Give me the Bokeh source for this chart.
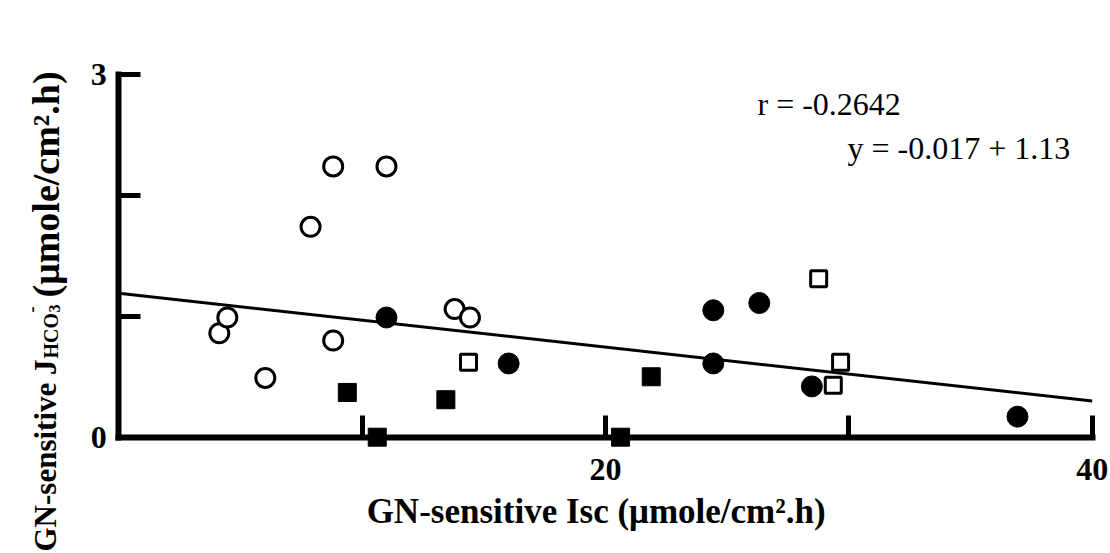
import math
from bokeh.plotting import figure
from bokeh.models import Range1d, FixedTicker, Label
from bokeh.embed import file_html
from bokeh.resources import INLINE

# ---- data ----
open_circle_x = [4.13, 4.46, 6.02, 7.88, 8.81, 8.81, 11.00, 13.80, 14.43]
open_circle_y = [0.86, 0.99, 0.49, 1.74, 2.24, 0.80, 2.24, 1.06, 0.99]
filled_circle_x = [11.00, 16.02, 24.43, 26.32, 24.43, 28.48, 36.93]
filled_circle_y = [0.99, 0.61, 1.05, 1.11, 0.61, 0.42, 0.17]
filled_square_x = [9.39, 13.44, 10.62, 21.88, 20.62]
filled_square_y = [0.37, 0.31, 0.00, 0.50, 0.00]
open_square_x = [14.37, 28.76, 29.66, 29.36]
open_square_y = [0.62, 1.31, 0.62, 0.43]
fit_x = [0, 40]
fit_y = [1.19, 0.30]

x_ticks = [10, 20, 30, 40]
x_tick_labels = {10: "", 20: "20", 30: "", 40: "40"}
y_ticks = [0, 1, 2, 3]
y_tick_labels = {0: "0", 1: "", 2: "", 3: "3"}

x_title = "GN-sensitive Isc  (\u03bcmole/cm\u00b2.h)"
y_title_main = "GN-sensitive J"
y_title_sub = "HCO"
y_title_subsub = "3"
y_title_sup = "-"
y_title_unit = "(\u03bcmole/cm\u00b2.h)"
note_r = "r = -0.2642"
note_eq = "y = -0.017 + 1.13"

# ---- geometry (pixels of the 1110x553 canvas) ----
W, H = 1110, 553
X_LO, X_HI = 0, 40          # axis extent in data
Y_LO, Y_HI = 0, 3
PX_XLO, PX_XHI = 118.3, 1091.7
PX_YLO, PX_YHI = 436.7, 74.0
FONT = "Liberation Serif"

sx = (PX_XHI - PX_XLO) / (X_HI - X_LO)
sy = (PX_YLO - PX_YHI) / (Y_HI - Y_LO)


def dx(px):
    return X_LO + (px - PX_XLO) / sx


def dy(py):
    return Y_LO + (PX_YLO - py) / sy


p = figure(frame_width=W, frame_height=H,
           min_border_left=0, min_border_right=0,
           min_border_top=0, min_border_bottom=0,
           x_range=Range1d(dx(0), dx(W)), y_range=Range1d(dy(H), dy(0)),
           output_backend="svg", toolbar_location=None)
p.outline_line_color = None
p.xgrid.visible = False
p.ygrid.visible = False
p.background_fill_color = "white"
p.border_fill_color = "white"

for ax in (p.xaxis[0], p.yaxis[0]):
    ax.axis_line_width = 6
    ax.axis_line_cap = "square"
    ax.axis_line_color = "black"
    ax.major_tick_line_width = 5
    ax.major_tick_line_color = "black"
    ax.major_tick_in = 22
    ax.major_tick_out = 0
    ax.minor_tick_line_color = None
    ax.major_label_text_font = FONT
    ax.major_label_text_font_style = "bold"
    ax.major_label_text_font_size = "32px"
    ax.major_label_text_color = "black"

p.xaxis.ticker = FixedTicker(ticks=x_ticks)
p.xaxis.major_label_overrides = x_tick_labels
p.xaxis.fixed_location = Y_LO
p.xaxis.bounds = (X_LO, X_HI)
p.xaxis.major_label_standoff = 22

p.yaxis.ticker = FixedTicker(ticks=y_ticks)
p.yaxis.major_label_overrides = y_tick_labels
p.yaxis.fixed_location = X_LO
p.yaxis.bounds = (Y_LO, Y_HI)
p.yaxis.major_label_standoff = 12

# regression line
p.line(fit_x, fit_y, line_color="black", line_width=3)

# markers
p.scatter(open_circle_x, open_circle_y, marker="circle", size=19,
          fill_color="white", line_color="black", line_width=3)
p.scatter(filled_circle_x, filled_circle_y, marker="circle", size=21,
          fill_color="black", line_color="black", line_width=1)
p.scatter(filled_square_x, filled_square_y, marker="square", size=18,
          fill_color="black", line_color="black", line_width=1)
p.scatter(open_square_x, open_square_y, marker="square", size=16,
          fill_color="white", line_color="black", line_width=3)

# annotations
for txt, px, py in ((note_r, 757, 103), (note_eq, 847, 147)):
    p.add_layout(Label(x=dx(px), y=dy(py), text=txt, text_font=FONT,
                       text_font_size="32px", text_color="black",
                       text_align="left", text_baseline="alphabetic"))

# x axis title
p.add_layout(Label(x=dx(600), y=dy(511), text=x_title, text_font=FONT,
                   text_font_size="35px", text_font_style="bold",
                   text_color="black", text_align="center",
                   text_baseline="alphabetic"))

# y axis title (rotated, pieced for subscripts)
pieces = [
    (y_title_main, 45, 551, "31px"),
    (y_title_sub, 50, 358, "20px"),
    (y_title_subsub, 54, 312, "16px"),
    (y_title_sup, 31, 312, "18px"),
    (y_title_unit, 45, 297, "38px"),
]
for txt, px, py, fs in pieces:
    p.add_layout(Label(x=dx(px), y=dy(py), text=txt, text_font=FONT,
                       text_font_size=fs, text_font_style="bold",
                       text_color="black", angle=math.pi / 2,
                       text_align="left", text_baseline="alphabetic"))

open("out.html", "w").write(file_html(p, INLINE))
